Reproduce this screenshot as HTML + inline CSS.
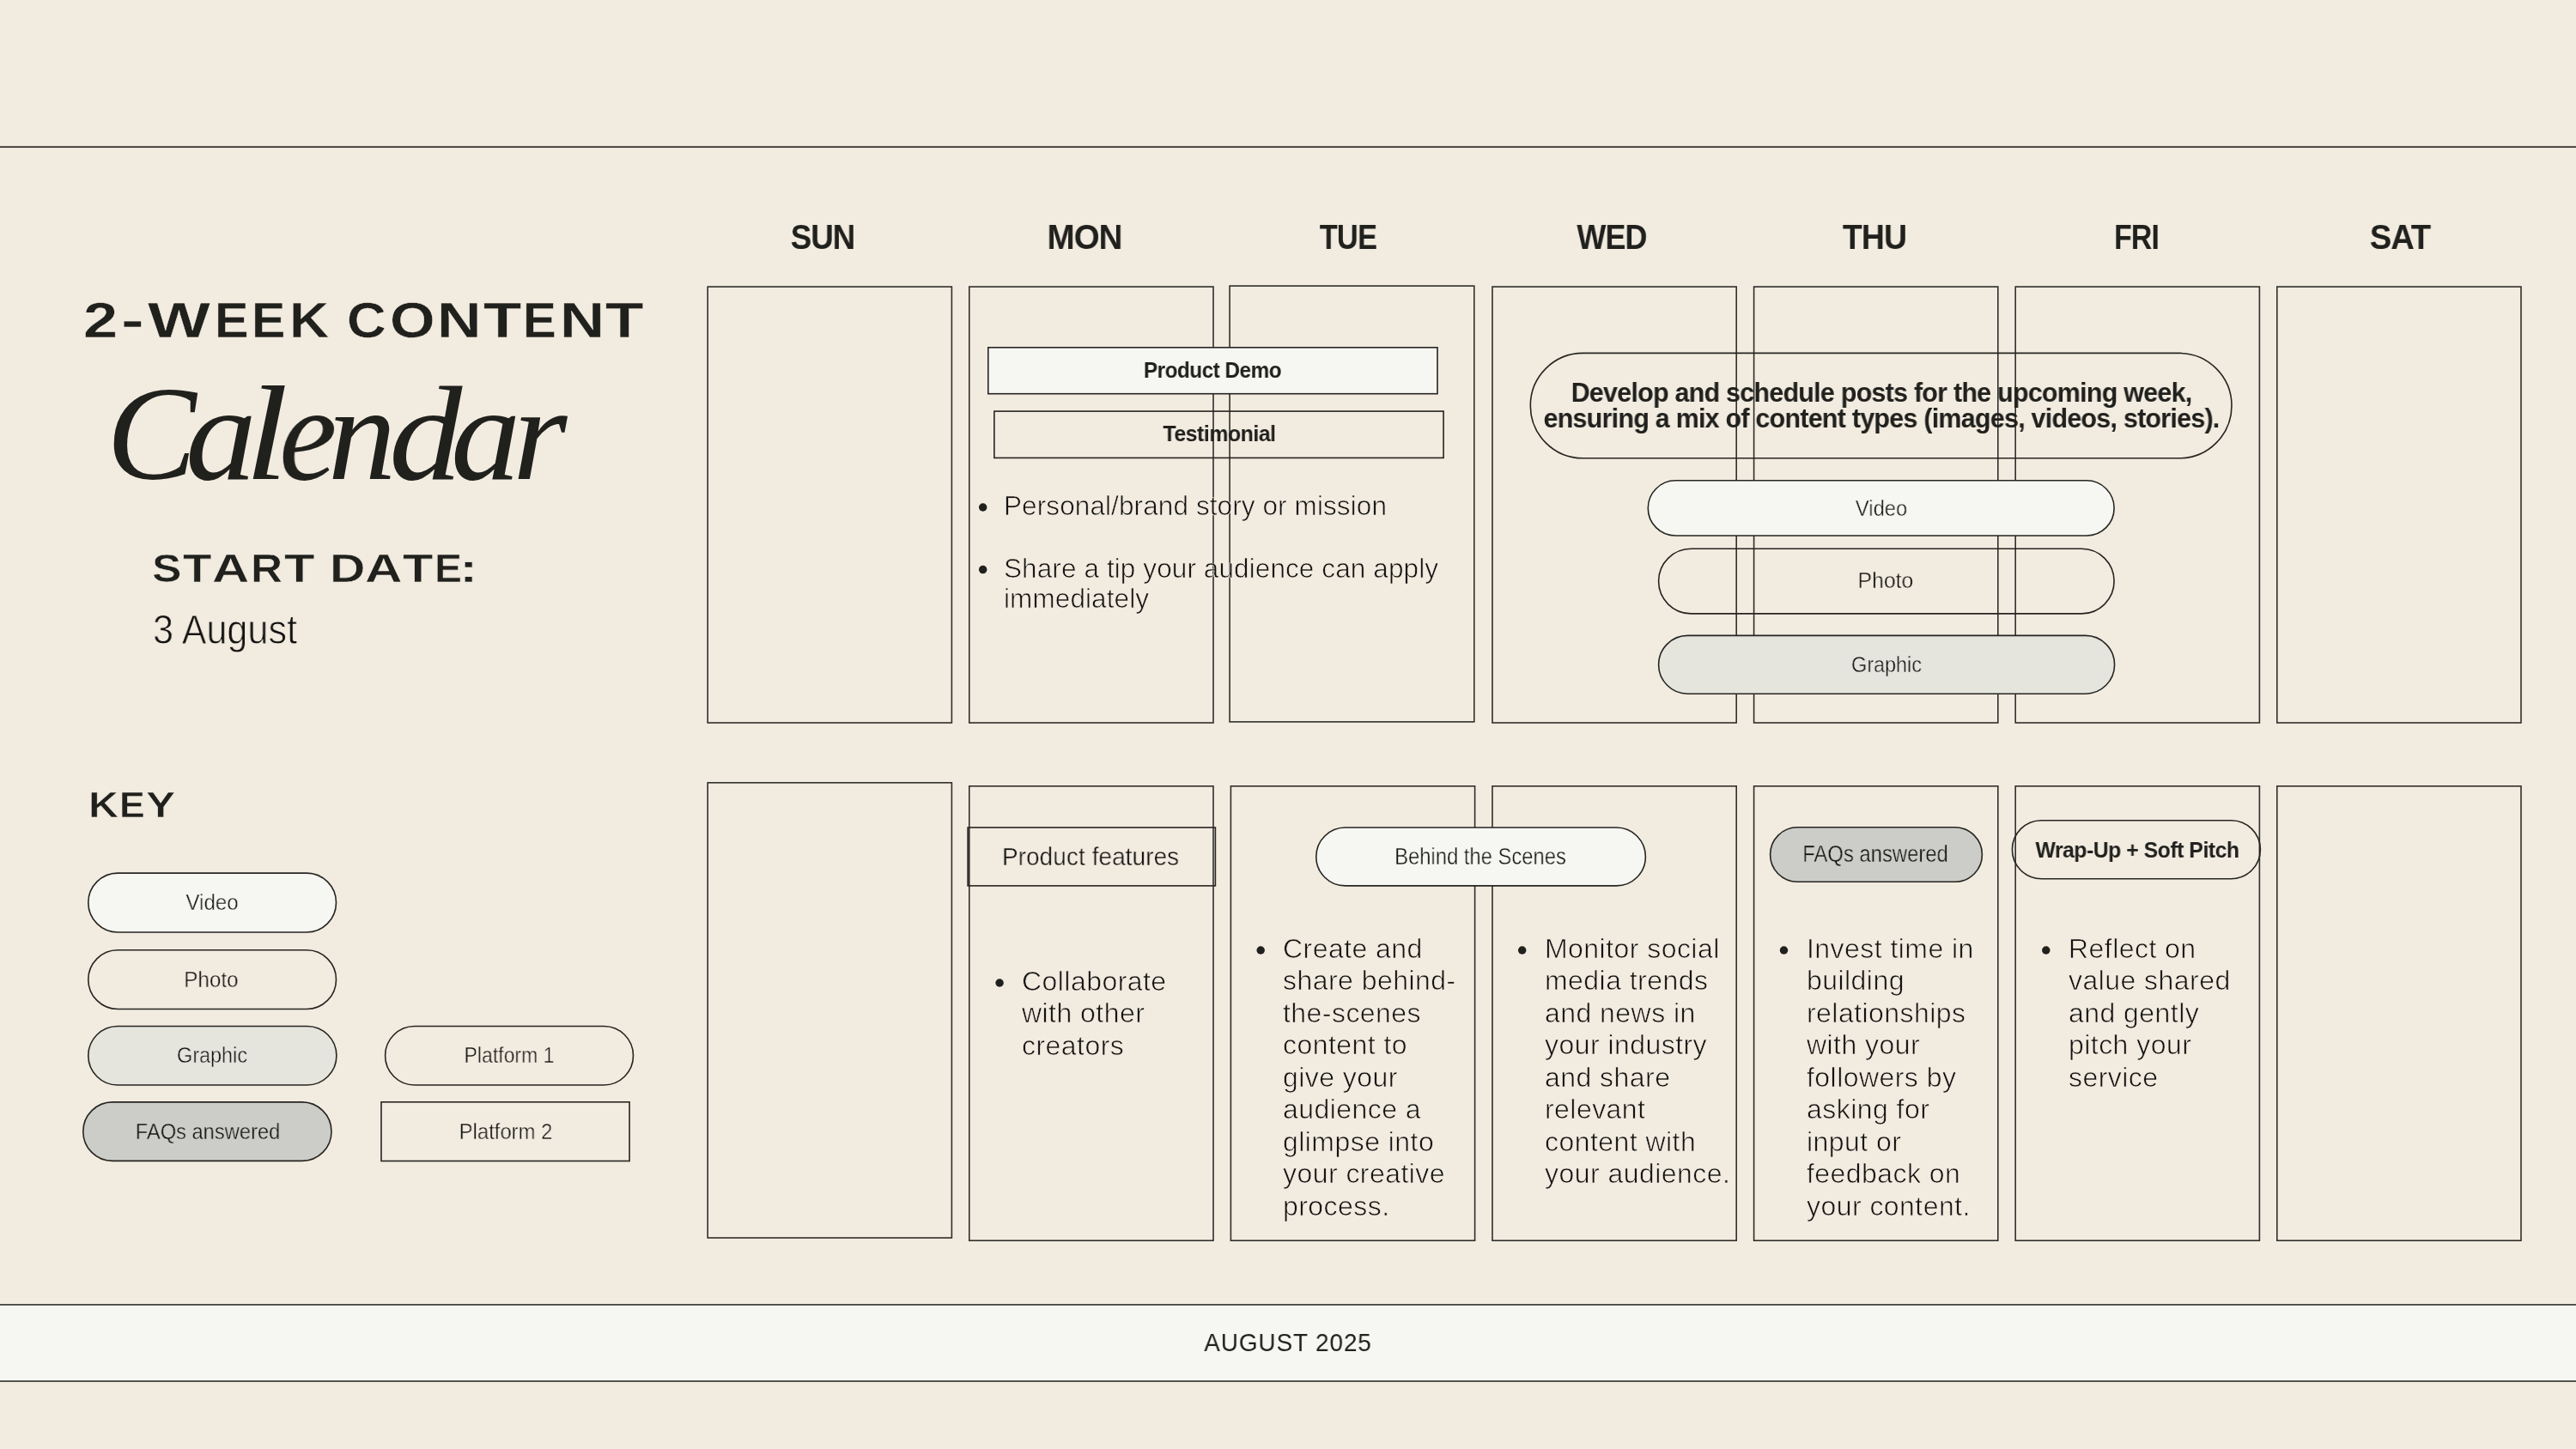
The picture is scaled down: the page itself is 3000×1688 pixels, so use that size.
<!DOCTYPE html>
<html><head><meta charset="utf-8"><title>2-Week Content Calendar</title>
<style>
html,body{margin:0;padding:0;}
body{width:3000px;height:1688px;overflow:hidden;background:#F2EBE0;position:relative;font-family:'Liberation Sans', sans-serif;}
.b{position:absolute;box-sizing:border-box;}
.t{position:absolute;white-space:nowrap;will-change:transform;}
</style></head><body>
<svg class="b" style="left:0;top:0" width="3000" height="1688">
<rect x="0" y="170.35" width="3000" height="1.7" fill="#2A2925"/>
<rect x="824.20" y="334.05" width="284.20" height="507.95" fill="none" stroke="#302F2B" stroke-width="1.6"/>
<rect x="1128.80" y="334.05" width="284.20" height="507.95" fill="none" stroke="#302F2B" stroke-width="1.6"/>
<rect x="1432.10" y="333.10" width="284.70" height="507.80" fill="none" stroke="#302F2B" stroke-width="1.6"/>
<rect x="1738.00" y="334.05" width="284.20" height="507.95" fill="none" stroke="#302F2B" stroke-width="1.6"/>
<rect x="2042.60" y="334.05" width="284.20" height="507.95" fill="none" stroke="#302F2B" stroke-width="1.6"/>
<rect x="2347.20" y="334.05" width="284.20" height="507.95" fill="none" stroke="#302F2B" stroke-width="1.6"/>
<rect x="2651.80" y="334.05" width="284.20" height="507.95" fill="none" stroke="#302F2B" stroke-width="1.6"/>
<rect x="824.20" y="911.80" width="284.20" height="530.20" fill="none" stroke="#302F2B" stroke-width="1.6"/>
<rect x="1128.80" y="915.80" width="284.20" height="529.40" fill="none" stroke="#302F2B" stroke-width="1.6"/>
<rect x="1433.40" y="915.80" width="284.20" height="529.40" fill="none" stroke="#302F2B" stroke-width="1.6"/>
<rect x="1738.00" y="915.80" width="284.20" height="529.40" fill="none" stroke="#302F2B" stroke-width="1.6"/>
<rect x="2042.60" y="915.80" width="284.20" height="529.40" fill="none" stroke="#302F2B" stroke-width="1.6"/>
<rect x="2347.20" y="915.80" width="284.20" height="529.40" fill="none" stroke="#302F2B" stroke-width="1.6"/>
<rect x="2651.80" y="915.80" width="284.20" height="529.40" fill="none" stroke="#302F2B" stroke-width="1.6"/>
<rect x="1150.80" y="404.80" width="523.20" height="53.90" fill="#F6F6F2" stroke="#262521" stroke-width="1.6"/>
<rect x="1157.90" y="479.10" width="523.20" height="54.30" fill="none" stroke="#262521" stroke-width="1.6"/>
<circle cx="1144.70" cy="591.00" r="4.75" fill="#20201D"/>
<circle cx="1144.70" cy="663.60" r="4.75" fill="#20201D"/>
<rect x="1782.30" y="411.40" width="816.70" height="122.40" rx="61.20" ry="61.20" fill="none" stroke="#262521" stroke-width="1.6"/>
<rect x="1919.30" y="559.80" width="542.80" height="64.20" rx="32.10" ry="32.10" fill="#F6F6F2" stroke="#262521" stroke-width="1.6"/>
<rect x="1931.60" y="639.30" width="530.50" height="75.60" rx="37.80" ry="37.80" fill="none" stroke="#262521" stroke-width="1.6"/>
<rect x="1931.60" y="740.40" width="531.00" height="67.80" rx="33.90" ry="33.90" fill="#E5E5DE" stroke="#262521" stroke-width="1.6"/>
<rect x="1127.10" y="964.00" width="288.30" height="67.90" fill="none" stroke="#262521" stroke-width="1.6"/>
<rect x="1532.80" y="964.00" width="383.60" height="67.90" rx="33.95" ry="33.95" fill="#F6F6F2" stroke="#262521" stroke-width="1.6"/>
<rect x="2061.60" y="963.80" width="246.80" height="63.50" rx="31.75" ry="31.75" fill="#CCCDC8" stroke="#262521" stroke-width="1.6"/>
<rect x="2343.40" y="955.70" width="289.00" height="68.00" rx="34.00" ry="34.00" fill="none" stroke="#262521" stroke-width="1.6"/>
<circle cx="1164.10" cy="1145.00" r="4.75" fill="#20201D"/>
<circle cx="1468.20" cy="1107.00" r="4.75" fill="#20201D"/>
<circle cx="1772.70" cy="1107.00" r="4.75" fill="#20201D"/>
<circle cx="2077.50" cy="1107.00" r="4.75" fill="#20201D"/>
<circle cx="2382.80" cy="1107.00" r="4.75" fill="#20201D"/>
<rect x="102.80" y="1017.10" width="288.70" height="68.90" rx="34.45" ry="34.45" fill="#F6F6F2" stroke="#262521" stroke-width="1.6"/>
<rect x="102.80" y="1106.80" width="288.70" height="68.70" rx="34.35" ry="34.35" fill="none" stroke="#262521" stroke-width="1.6"/>
<rect x="102.80" y="1195.50" width="289.10" height="68.50" rx="34.25" ry="34.25" fill="#E5E5DE" stroke="#262521" stroke-width="1.6"/>
<rect x="96.80" y="1283.90" width="289.20" height="68.50" rx="34.25" ry="34.25" fill="#CCCDC8" stroke="#262521" stroke-width="1.6"/>
<rect x="448.60" y="1195.50" width="288.90" height="68.50" rx="34.25" ry="34.25" fill="none" stroke="#262521" stroke-width="1.6"/>
<rect x="444.00" y="1283.80" width="289.10" height="68.70" fill="none" stroke="#262521" stroke-width="1.6"/>
<rect x="0" y="1520" width="3000" height="89" fill="#F6F6F2"/>
<rect x="0" y="1519.05" width="3000" height="1.7" fill="#3C3B37"/>
<rect x="0" y="1608.15" width="3000" height="1.7" fill="#3C3B37"/>
</svg>
<div class="t" style="left:97.10px;top:345.72px;font-family:'Liberation Sans', sans-serif;font-size:56.8px;line-height:56.8px;font-weight:700;color:#20201D;transform:scaleX(1.2689);transform-origin:0 0;-webkit-text-stroke:0.4px #F2EBE0;">2</div>
<div class="t" style="left:140.78px;top:345.72px;font-family:'Liberation Sans', sans-serif;font-size:56.8px;line-height:56.8px;font-weight:700;color:#20201D;transform:scaleX(1.4076);transform-origin:0 0;-webkit-text-stroke:0.4px #F2EBE0;">-</div>
<div class="t" style="left:172.32px;top:345.72px;font-family:'Liberation Sans', sans-serif;font-size:56.8px;line-height:56.8px;font-weight:700;color:#20201D;transform:scaleX(1.3608);transform-origin:0 0;-webkit-text-stroke:0.4px #F2EBE0;">W</div>
<div class="t" style="left:249.94px;top:345.72px;font-family:'Liberation Sans', sans-serif;font-size:56.8px;line-height:56.8px;font-weight:700;color:#20201D;transform:scaleX(1.0418);transform-origin:0 0;-webkit-text-stroke:0.4px #F2EBE0;">E</div>
<div class="t" style="left:293.45px;top:345.72px;font-family:'Liberation Sans', sans-serif;font-size:56.8px;line-height:56.8px;font-weight:700;color:#20201D;transform:scaleX(1.0387);transform-origin:0 0;-webkit-text-stroke:0.4px #F2EBE0;">E</div>
<div class="t" style="left:336.62px;top:345.72px;font-family:'Liberation Sans', sans-serif;font-size:56.8px;line-height:56.8px;font-weight:700;color:#20201D;transform:scaleX(1.1256);transform-origin:0 0;-webkit-text-stroke:0.4px #F2EBE0;">K</div>
<div class="t" style="left:404.31px;top:345.72px;font-family:'Liberation Sans', sans-serif;font-size:56.8px;line-height:56.8px;font-weight:700;color:#20201D;transform:scaleX(1.1121);transform-origin:0 0;-webkit-text-stroke:0.4px #F2EBE0;">C</div>
<div class="t" style="left:453.63px;top:345.72px;font-family:'Liberation Sans', sans-serif;font-size:56.8px;line-height:56.8px;font-weight:700;color:#20201D;transform:scaleX(1.1909);transform-origin:0 0;-webkit-text-stroke:0.4px #F2EBE0;">O</div>
<div class="t" style="left:509.21px;top:345.72px;font-family:'Liberation Sans', sans-serif;font-size:56.8px;line-height:56.8px;font-weight:700;color:#20201D;transform:scaleX(1.2608);transform-origin:0 0;-webkit-text-stroke:0.4px #F2EBE0;">N</div>
<div class="t" style="left:562.89px;top:345.72px;font-family:'Liberation Sans', sans-serif;font-size:56.8px;line-height:56.8px;font-weight:700;color:#20201D;transform:scaleX(1.2766);transform-origin:0 0;-webkit-text-stroke:0.4px #F2EBE0;">T</div>
<div class="t" style="left:609.31px;top:345.72px;font-family:'Liberation Sans', sans-serif;font-size:56.8px;line-height:56.8px;font-weight:700;color:#20201D;transform:scaleX(1.0230);transform-origin:0 0;-webkit-text-stroke:0.4px #F2EBE0;">E</div>
<div class="t" style="left:651.78px;top:345.72px;font-family:'Liberation Sans', sans-serif;font-size:56.8px;line-height:56.8px;font-weight:700;color:#20201D;transform:scaleX(1.2698);transform-origin:0 0;-webkit-text-stroke:0.4px #F2EBE0;">N</div>
<div class="t" style="left:704.68px;top:345.72px;font-family:'Liberation Sans', sans-serif;font-size:56.8px;line-height:56.8px;font-weight:700;color:#20201D;transform:scaleX(1.2856);transform-origin:0 0;-webkit-text-stroke:0.4px #F2EBE0;">T</div>
<div class="t" style="left:124.06px;top:426.81px;font-family:'Liberation Serif', serif;font-size:157px;line-height:157px;font-weight:400;color:#20201D;transform:scaleX(0.9996);transform-origin:0 0;font-style:italic;">C</div>
<div class="t" style="left:216.26px;top:426.81px;font-family:'Liberation Serif', serif;font-size:157px;line-height:157px;font-weight:400;color:#20201D;transform:scaleX(1.0556);transform-origin:0 0;font-style:italic;">a</div>
<div class="t" style="left:285.38px;top:426.81px;font-family:'Liberation Serif', serif;font-size:157px;line-height:157px;font-weight:400;color:#20201D;transform:scaleX(1.1630);transform-origin:0 0;font-style:italic;">l</div>
<div class="t" style="left:324.63px;top:426.81px;font-family:'Liberation Serif', serif;font-size:157px;line-height:157px;font-weight:400;color:#20201D;transform:scaleX(0.9669);transform-origin:0 0;font-style:italic;">e</div>
<div class="t" style="left:382.25px;top:426.81px;font-family:'Liberation Serif', serif;font-size:157px;line-height:157px;font-weight:400;color:#20201D;transform:scaleX(1.0092);transform-origin:0 0;font-style:italic;">n</div>
<div class="t" style="left:452.54px;top:426.81px;font-family:'Liberation Serif', serif;font-size:157px;line-height:157px;font-weight:400;color:#20201D;transform:scaleX(1.0859);transform-origin:0 0;font-style:italic;">d</div>
<div class="t" style="left:524.85px;top:426.81px;font-family:'Liberation Serif', serif;font-size:157px;line-height:157px;font-weight:400;color:#20201D;transform:scaleX(1.0365);transform-origin:0 0;font-style:italic;">a</div>
<div class="t" style="left:596.88px;top:426.81px;font-family:'Liberation Serif', serif;font-size:157px;line-height:157px;font-weight:400;color:#20201D;transform:scaleX(1.0399);transform-origin:0 0;font-style:italic;">r</div>
<div class="t" style="left:177.31px;top:638.78px;font-family:'Liberation Sans', sans-serif;font-size:46.8px;line-height:46.8px;font-weight:700;color:#20201D;transform:scaleX(1.1020);transform-origin:0 0;-webkit-text-stroke:0.6px #F2EBE0;">S</div>
<div class="t" style="left:213.18px;top:638.78px;font-family:'Liberation Sans', sans-serif;font-size:46.8px;line-height:46.8px;font-weight:700;color:#20201D;transform:scaleX(1.1720);transform-origin:0 0;-webkit-text-stroke:0.6px #F2EBE0;">T</div>
<div class="t" style="left:247.41px;top:638.78px;font-family:'Liberation Sans', sans-serif;font-size:46.8px;line-height:46.8px;font-weight:700;color:#20201D;transform:scaleX(1.2803);transform-origin:0 0;-webkit-text-stroke:0.6px #F2EBE0;">A</div>
<div class="t" style="left:292.36px;top:638.78px;font-family:'Liberation Sans', sans-serif;font-size:46.8px;line-height:46.8px;font-weight:700;color:#20201D;transform:scaleX(1.0974);transform-origin:0 0;-webkit-text-stroke:0.6px #F2EBE0;">R</div>
<div class="t" style="left:330.85px;top:638.78px;font-family:'Liberation Sans', sans-serif;font-size:46.8px;line-height:46.8px;font-weight:700;color:#20201D;transform:scaleX(1.2446);transform-origin:0 0;-webkit-text-stroke:0.6px #F2EBE0;">T</div>
<div class="t" style="left:383.96px;top:638.78px;font-family:'Liberation Sans', sans-serif;font-size:46.8px;line-height:46.8px;font-weight:700;color:#20201D;transform:scaleX(1.2264);transform-origin:0 0;-webkit-text-stroke:0.6px #F2EBE0;">D</div>
<div class="t" style="left:425.40px;top:638.78px;font-family:'Liberation Sans', sans-serif;font-size:46.8px;line-height:46.8px;font-weight:700;color:#20201D;transform:scaleX(1.2899);transform-origin:0 0;-webkit-text-stroke:0.6px #F2EBE0;">A</div>
<div class="t" style="left:469.15px;top:638.78px;font-family:'Liberation Sans', sans-serif;font-size:46.8px;line-height:46.8px;font-weight:700;color:#20201D;transform:scaleX(1.2410);transform-origin:0 0;-webkit-text-stroke:0.6px #F2EBE0;">T</div>
<div class="t" style="left:506.49px;top:638.78px;font-family:'Liberation Sans', sans-serif;font-size:46.8px;line-height:46.8px;font-weight:700;color:#20201D;transform:scaleX(1.0245);transform-origin:0 0;-webkit-text-stroke:0.6px #F2EBE0;">E</div>
<div class="t" style="left:535.34px;top:638.78px;font-family:'Liberation Sans', sans-serif;font-size:46.8px;line-height:46.8px;font-weight:700;color:#20201D;transform:scaleX(1.3675);transform-origin:0 0;-webkit-text-stroke:0.6px #F2EBE0;">:</div>
<div class="t" id="aug" style="top:710.27px;font-family:'Liberation Sans', sans-serif;font-size:48px;line-height:48px;font-weight:400;color:#121210;left:177.54px;transform:scaleX(0.8994);transform-origin:left top;-webkit-text-stroke:0.9px #F2EBE0;">3 August</div>
<div class="t" style="left:102.75px;top:916.62px;font-family:'Liberation Sans', sans-serif;font-size:42.5px;line-height:42.5px;font-weight:700;color:#20201D;transform:scaleX(1.1437);transform-origin:0 0;-webkit-text-stroke:0.6px #F2EBE0;">K</div>
<div class="t" style="left:139.12px;top:916.62px;font-family:'Liberation Sans', sans-serif;font-size:42.5px;line-height:42.5px;font-weight:700;color:#20201D;transform:scaleX(1.0485);transform-origin:0 0;-webkit-text-stroke:0.6px #F2EBE0;">E</div>
<div class="t" style="left:169.62px;top:916.62px;font-family:'Liberation Sans', sans-serif;font-size:42.5px;line-height:42.5px;font-weight:700;color:#20201D;transform:scaleX(1.2066);transform-origin:0 0;-webkit-text-stroke:0.6px #F2EBE0;">Y</div>
<div class="t" id="dSUN" style="top:255.66px;font-family:'Liberation Sans', sans-serif;font-size:40.8px;line-height:40.8px;font-weight:700;color:#20201D;letter-spacing:-1px;left:808.08px;width:300px;text-align:center;transform:scaleX(0.8989);transform-origin:center top;">SUN</div>
<div class="t" id="dMON" style="top:255.66px;font-family:'Liberation Sans', sans-serif;font-size:40.8px;line-height:40.8px;font-weight:700;color:#20201D;letter-spacing:-1px;left:1113.21px;width:300px;text-align:center;transform:scaleX(0.9457);transform-origin:center top;">MON</div>
<div class="t" id="dTUE" style="top:255.66px;font-family:'Liberation Sans', sans-serif;font-size:40.8px;line-height:40.8px;font-weight:700;color:#20201D;letter-spacing:-1px;left:1419.70px;width:300px;text-align:center;transform:scaleX(0.8477);transform-origin:center top;">TUE</div>
<div class="t" id="dWED" style="top:255.66px;font-family:'Liberation Sans', sans-serif;font-size:40.8px;line-height:40.8px;font-weight:700;color:#20201D;letter-spacing:-1px;left:1726.93px;width:300px;text-align:center;transform:scaleX(0.8825);transform-origin:center top;">WED</div>
<div class="t" id="dTHU" style="top:255.66px;font-family:'Liberation Sans', sans-serif;font-size:40.8px;line-height:40.8px;font-weight:700;color:#20201D;letter-spacing:-1px;left:2032.76px;width:300px;text-align:center;transform:scaleX(0.9165);transform-origin:center top;">THU</div>
<div class="t" id="dFRI" style="top:255.66px;font-family:'Liberation Sans', sans-serif;font-size:40.8px;line-height:40.8px;font-weight:700;color:#20201D;letter-spacing:-1px;left:2338.08px;width:300px;text-align:center;transform:scaleX(0.8318);transform-origin:center top;">FRI</div>
<div class="t" id="dSAT" style="top:255.66px;font-family:'Liberation Sans', sans-serif;font-size:40.8px;line-height:40.8px;font-weight:700;color:#20201D;letter-spacing:-1px;left:2645.14px;width:300px;text-align:center;transform:scaleX(0.9333);transform-origin:center top;">SAT</div>
<div class="t" id="pdemo" style="top:417.90px;font-family:'Liberation Sans', sans-serif;font-size:26.7px;line-height:26.7px;font-weight:700;color:#20201D;letter-spacing:-0.5px;left:1151.95px;width:520px;text-align:center;transform:scaleX(0.9069);transform-origin:center top;">Product Demo</div>
<div class="t" id="testi" style="top:491.50px;font-family:'Liberation Sans', sans-serif;font-size:26.7px;line-height:26.7px;font-weight:700;color:#20201D;letter-spacing:-0.5px;left:1159.90px;width:520px;text-align:center;transform:scaleX(0.9308);transform-origin:center top;">Testimonial</div>
<div class="t" id="pb1" style="top:573.64px;font-family:'Liberation Sans', sans-serif;font-size:31.5px;line-height:31.5px;font-weight:400;color:#121210;letter-spacing:0.1px;left:1168.50px;-webkit-text-stroke:0.7px #F2EBE0;">Personal/brand story or mission</div>
<div class="t" id="pb2" style="top:644.54px;font-family:'Liberation Sans', sans-serif;font-size:31.5px;line-height:34.9px;font-weight:400;color:#121210;letter-spacing:0.1px;left:1169.00px;-webkit-text-stroke:0.7px #F2EBE0;">Share a tip your audience can apply<br>immediately</div>
<div class="t" id="dev" style="top:442.39px;font-family:'Liberation Sans', sans-serif;font-size:31.5px;line-height:30px;font-weight:700;color:#20201D;letter-spacing:-0.8px;left:1740.50px;width:900px;text-align:center;transform:scaleX(0.968);transform-origin:center top;">Develop and schedule posts for the upcoming week,<br>ensuring a mix of content types (images, videos, stories).</div>
<div class="t" id="tvid" style="top:578.87px;font-family:'Liberation Sans', sans-serif;font-size:26.5px;line-height:26.5px;font-weight:400;color:#121210;left:1990.73px;width:400px;text-align:center;transform:scaleX(0.8939);transform-origin:center top;-webkit-text-stroke:0.45px #F6F6F2;">Video</div>
<div class="t" id="tpho" style="top:662.67px;font-family:'Liberation Sans', sans-serif;font-size:26.5px;line-height:26.5px;font-weight:400;color:#121210;left:1996.00px;width:400px;text-align:center;transform:scaleX(0.9334);transform-origin:center top;-webkit-text-stroke:0.45px #F2EBE0;">Photo</div>
<div class="t" id="tgra" style="top:760.57px;font-family:'Liberation Sans', sans-serif;font-size:26.5px;line-height:26.5px;font-weight:400;color:#121210;left:1997.44px;width:400px;text-align:center;transform:scaleX(0.8801);transform-origin:center top;-webkit-text-stroke:0.45px #E5E5DE;">Graphic</div>
<div class="t" id="pfeat" style="top:982.81px;font-family:'Liberation Sans', sans-serif;font-size:30px;line-height:30px;font-weight:400;color:#121210;left:1125.42px;width:290px;text-align:center;transform:scaleX(0.9374);transform-origin:center top;-webkit-text-stroke:0.45px #F2EBE0;">Product features</div>
<div class="t" id="bts" style="top:984.64px;font-family:'Liberation Sans', sans-serif;font-size:27px;line-height:27px;font-weight:400;color:#121210;left:1534.21px;width:380px;text-align:center;transform:scaleX(0.8817);transform-origin:center top;-webkit-text-stroke:0.45px #F6F6F2;">Behind the Scenes</div>
<div class="t" id="faq2" style="top:982.24px;font-family:'Liberation Sans', sans-serif;font-size:27px;line-height:27px;font-weight:400;color:#121210;left:2053.91px;width:260px;text-align:center;transform:scaleX(0.8835);transform-origin:center top;-webkit-text-stroke:0.45px #CCCDC8;">FAQs answered</div>
<div class="t" id="wrap" style="top:976.60px;font-family:'Liberation Sans', sans-serif;font-size:26.7px;line-height:26.7px;font-weight:700;color:#20201D;letter-spacing:-0.5px;left:2338.60px;width:300px;text-align:center;transform:scaleX(0.9275);transform-origin:center top;">Wrap-Up + Soft Pitch</div>
<div class="t" id="lb0" style="top:1125.19px;font-family:'Liberation Sans', sans-serif;font-size:32px;line-height:37.45px;font-weight:400;color:#121210;letter-spacing:0.45px;left:1190.30px;-webkit-text-stroke:0.7px #F2EBE0;">Collaborate<br>with other<br>creators</div>
<div class="t" id="lb1" style="top:1087.19px;font-family:'Liberation Sans', sans-serif;font-size:32px;line-height:37.45px;font-weight:400;color:#121210;letter-spacing:0.45px;left:1494.40px;-webkit-text-stroke:0.7px #F2EBE0;">Create and<br>share behind-<br>the-scenes<br>content to<br>give your<br>audience a<br>glimpse into<br>your creative<br>process.</div>
<div class="t" id="lb2" style="top:1087.19px;font-family:'Liberation Sans', sans-serif;font-size:32px;line-height:37.45px;font-weight:400;color:#121210;letter-spacing:0.45px;left:1798.90px;-webkit-text-stroke:0.7px #F2EBE0;">Monitor social<br>media trends<br>and news in<br>your industry<br>and share<br>relevant<br>content with<br>your audience.</div>
<div class="t" id="lb3" style="top:1087.19px;font-family:'Liberation Sans', sans-serif;font-size:32px;line-height:37.45px;font-weight:400;color:#121210;letter-spacing:0.45px;left:2103.70px;-webkit-text-stroke:0.7px #F2EBE0;">Invest time in<br>building<br>relationships<br>with your<br>followers by<br>asking for<br>input or<br>feedback on<br>your content.</div>
<div class="t" id="lb4" style="top:1087.19px;font-family:'Liberation Sans', sans-serif;font-size:32px;line-height:37.45px;font-weight:400;color:#121210;letter-spacing:0.45px;left:2409.00px;-webkit-text-stroke:0.7px #F2EBE0;">Reflect on<br>value shared<br>and gently<br>pitch your<br>service</div>
<div class="t" id="kvid" style="top:1037.57px;font-family:'Liberation Sans', sans-serif;font-size:26.5px;line-height:26.5px;font-weight:400;color:#121210;left:107.13px;width:280px;text-align:center;transform:scaleX(0.9077);transform-origin:center top;-webkit-text-stroke:0.45px #F6F6F2;">Video</div>
<div class="t" id="kpho" style="top:1127.57px;font-family:'Liberation Sans', sans-serif;font-size:26.5px;line-height:26.5px;font-weight:400;color:#121210;left:106.26px;width:280px;text-align:center;transform:scaleX(0.9152);transform-origin:center top;-webkit-text-stroke:0.45px #F2EBE0;">Photo</div>
<div class="t" id="kgra" style="top:1215.57px;font-family:'Liberation Sans', sans-serif;font-size:26.5px;line-height:26.5px;font-weight:400;color:#121210;left:107.21px;width:280px;text-align:center;transform:scaleX(0.8813);transform-origin:center top;-webkit-text-stroke:0.45px #E5E5DE;">Graphic</div>
<div class="t" id="kfaq" style="top:1304.77px;font-family:'Liberation Sans', sans-serif;font-size:26.5px;line-height:26.5px;font-weight:400;color:#121210;left:101.71px;width:280px;text-align:center;transform:scaleX(0.894);transform-origin:center top;-webkit-text-stroke:0.45px #CCCDC8;">FAQs answered</div>
<div class="t" id="kpl1" style="top:1215.57px;font-family:'Liberation Sans', sans-serif;font-size:26.5px;line-height:26.5px;font-weight:400;color:#121210;left:452.52px;width:280px;text-align:center;transform:scaleX(0.8675);transform-origin:center top;-webkit-text-stroke:0.45px #F2EBE0;">Platform 1</div>
<div class="t" id="kpl2" style="top:1304.77px;font-family:'Liberation Sans', sans-serif;font-size:26.5px;line-height:26.5px;font-weight:400;color:#121210;left:448.70px;width:280px;text-align:center;transform:scaleX(0.8992);transform-origin:center top;-webkit-text-stroke:0.45px #F2EBE0;">Platform 2</div>
<div class="t" id="foot" style="top:1548.61px;font-family:'Liberation Sans', sans-serif;font-size:30px;line-height:30px;font-weight:400;color:#20201D;letter-spacing:1.0px;left:1200.48px;width:600px;text-align:center;transform:scaleX(0.9284);transform-origin:center top;">AUGUST 2025</div>
</body></html>
